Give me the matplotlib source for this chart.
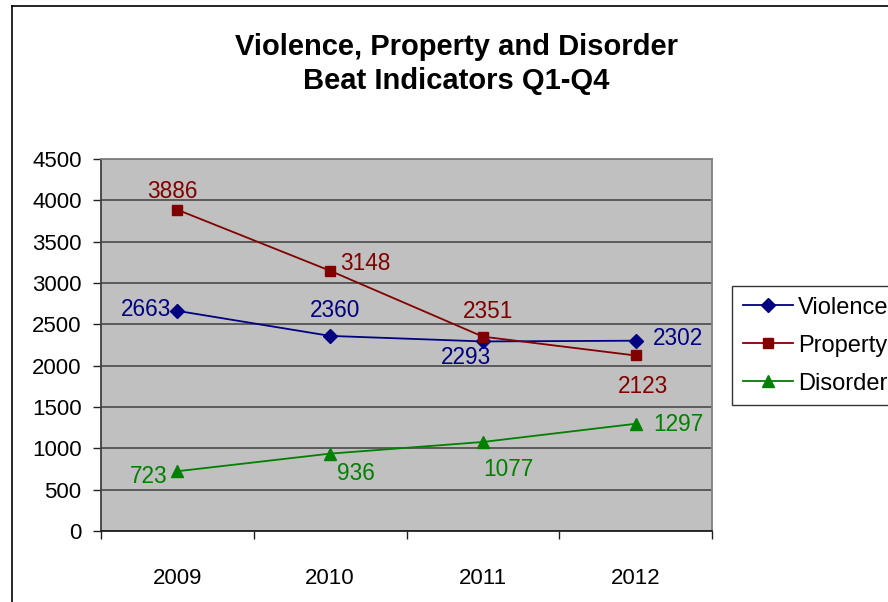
import matplotlib
matplotlib.use("Agg")
import matplotlib.pyplot as plt
from matplotlib.lines import Line2D

plt.rcParams["font.family"] = ["Liberation Sans", "DejaVu Sans"]

years = ["2009", "2010", "2011", "2012"]
violence = [2663, 2360, 2293, 2302]
property_ = [3886, 3148, 2351, 2123]
disorder = [723, 936, 1077, 1297]
series_names = ["Violence", "Property", "Disorder"]

# label offsets in pixels (dx, dy, ha) per point
label_pos = {
    "Violence": [(-6, 1, "right"), (5, 25, "center"), (-17, -16, "center"), (17, 2, "left")],
    "Property": [(-5, 18, "center"), (10, 7, "left"), (5, 25, "center"), (7, -31, "center")],
    "Disorder": [(-10, -5, "right"), (26, -20, "center"), (25, -28, "center"), (18, -1, "left")],
}
styles = {
    "Violence": dict(color="#000080", marker="D", ms=7.5),
    "Property": dict(color="#800000", marker="s", ms=7.5),
    "Disorder": dict(color="#008000", marker="^", ms=8.5),
}

fig = plt.figure(figsize=(8.88, 6.02), dpi=100)
ax = fig.add_axes([101 / 888, 1 - 531 / 602, 611 / 888, 372 / 602])
ax.set_facecolor("#C0C0C0")

x = list(range(len(years)))
for name, vals in zip(series_names, [violence, property_, disorder]):
    st = styles[name]
    ax.plot(x, vals, color=st["color"], lw=1.3, marker=st["marker"], ms=st["ms"],
            mec=st["color"], mfc=st["color"], label=name, zorder=3)
    for xi, v, (dx, dy, ha) in zip(x, vals, label_pos[name]):
        ax.annotate(str(v), (xi, v), xytext=(dx, dy), textcoords="offset pixels",
                    ha=ha, va="center", fontsize=16.3, color=st["color"], zorder=4)

ax.set_xlim(-0.5, 3.5)
ax.set_ylim(0, 4500)
ax.set_yticks(range(0, 4501, 500))
ax.yaxis.grid(True, color="#404040", lw=1.1)
ax.set_axisbelow(True)
ax.set_xticks(x)
ax.set_xticklabels(years)
ax.set_xticks([-0.5, 0.5, 1.5, 2.5, 3.5], minor=True)
ax.tick_params(axis="x", which="major", length=0, pad=27, labelsize=16)
ax.tick_params(axis="x", which="minor", length=6, color="#202020", width=1)
ax.tick_params(axis="y", length=6, color="#202020", width=1, pad=8, labelsize=16)

ax.spines["left"].set_color("#404040")
ax.spines["bottom"].set_color("#202020")
ax.spines["top"].set_color("#808080")
ax.spines["right"].set_color("#808080")
for s in ax.spines.values():
    s.set_linewidth(1.3)

fig.text(456 / 888, 1 - 64 / 602, "Violence, Property and Disorder\nBeat Indicators Q1-Q4",
         ha="center", va="center", fontsize=21, fontweight="bold", linespacing=1.25)

leg = fig.legend(loc="upper left", bbox_to_anchor=(732 / 888, 1 - 286 / 602),
                 fontsize=17, frameon=True, fancybox=False, borderaxespad=0,
                 handlelength=2.15, handletextpad=0.2, borderpad=0.45, labelspacing=0.68)
leg.get_frame().set_edgecolor("black")
leg.get_frame().set_linewidth(1.0)

# outer chart frame
fig.add_artist(Line2D([11.5 / 888, 11.5 / 888], [0, 1 - 5.5 / 602], transform=fig.transFigure,
                      color="black", lw=1.2))
fig.add_artist(Line2D([11.5 / 888, 1], [1 - 5.5 / 602, 1 - 5.5 / 602], transform=fig.transFigure,
                      color="black", lw=1.2))

fig.savefig("out.png", dpi=100)
